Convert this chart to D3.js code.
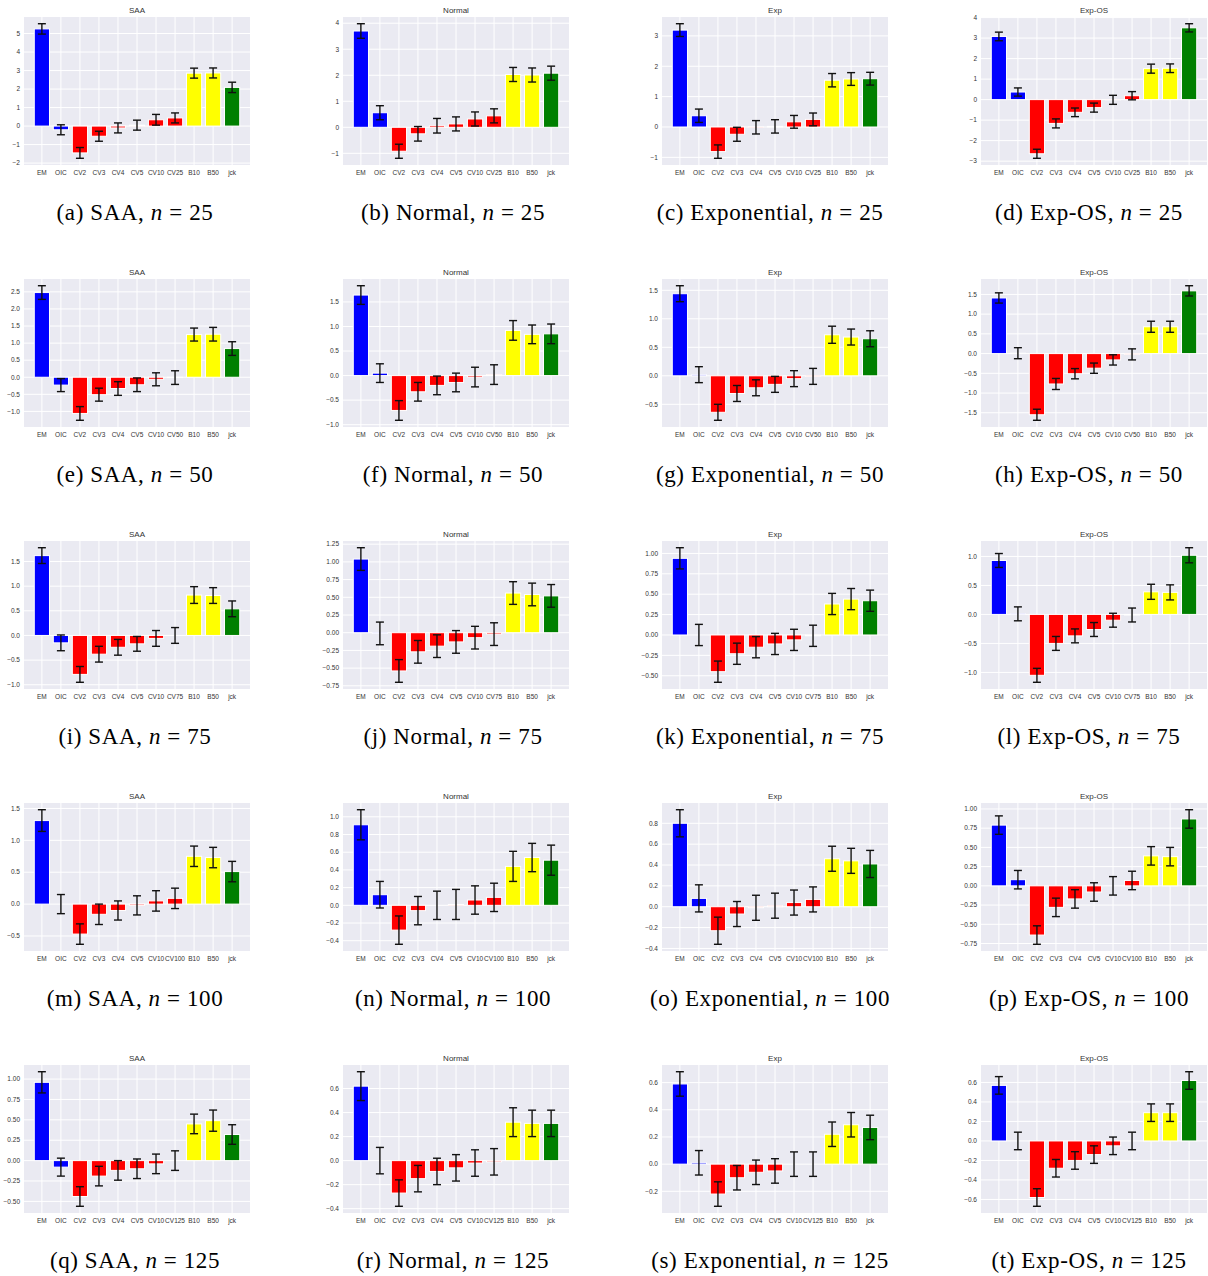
<!DOCTYPE html>
<html>
<head>
<meta charset="utf-8">
<script src="https://cdn.jsdelivr.net/npm/d3@7"></script>
<style>
  body { margin: 0; background: #fff; }
  text { font-family: "Liberation Sans", Arial, sans-serif; }
  .caption { font-family: "Liberation Serif", "DejaVu Serif", serif; letter-spacing: 0.6px; }
</style>
</head>
<body>
<div id="chart"></div>
<script>
// one column per method, one row per sample size
var methods = ["SAA", "Normal", "Exp", "Exp-OS"];
var methodNames = ["SAA", "Normal", "Exponential", "Exp-OS"];
var sizes = [25, 50, 75, 100, 125];
var baseCategories = ["EM", "OIC", "CV2", "CV3", "CV4", "CV5", "CV10", "CVn", "B10", "B50", "jck"];

// y tick step for each panel, rows = sizes, cols = methods
var tickSteps = [
  [1, 1, 1, 1],
  [0.5, 0.5, 0.5, 0.5],
  [0.5, 0.25, 0.25, 0.5],
  [0.5, 0.2, 0.2, 0.25],
  [0.25, 0.2, 0.2, 0.2]
];

// bar heights (means)
var saaMeans = [
  [5.25, -0.2, -1.45, -0.55, -0.1, 0.05, 0.34, 0.44, 2.86, 2.87, 2.09],
  [2.48, -0.23, -1.06, -0.51, -0.33, -0.22, -0.06, -0.01, 1.25, 1.26, 0.84],
  [1.62, -0.15, -0.79, -0.38, -0.24, -0.17, -0.06, 0.0, 0.82, 0.81, 0.54],
  [1.31, 0.0, -0.47, -0.16, -0.1, -0.02, 0.05, 0.09, 0.75, 0.73, 0.51],
  [0.96, -0.08, -0.44, -0.19, -0.12, -0.1, -0.04, 0.0, 0.45, 0.49, 0.32]
];
var saaErrors = [
  [0.28, 0.27, 0.29, 0.27, 0.27, 0.27, 0.29, 0.27, 0.27, 0.27, 0.28],
  [0.2, 0.19, 0.2, 0.19, 0.2, 0.2, 0.19, 0.2, 0.19, 0.2, 0.2],
  [0.16, 0.16, 0.16, 0.16, 0.16, 0.15, 0.16, 0.16, 0.17, 0.16, 0.16],
  [0.17, 0.15, 0.16, 0.16, 0.15, 0.15, 0.16, 0.16, 0.16, 0.16, 0.16],
  [0.13, 0.11, 0.12, 0.12, 0.12, 0.12, 0.12, 0.12, 0.12, 0.13, 0.12]
];

var normalMeans = [
  [3.7, 0.56, -0.92, -0.25, 0.06, 0.13, 0.32, 0.44, 2.03, 2.01, 2.08],
  [1.64, 0.05, -0.71, -0.33, -0.2, -0.14, -0.03, 0.02, 0.92, 0.84, 0.85],
  [1.04, -0.01, -0.54, -0.27, -0.19, -0.13, -0.07, -0.02, 0.56, 0.54, 0.52],
  [0.91, 0.12, -0.28, -0.06, 0.0, 0.01, 0.06, 0.09, 0.44, 0.54, 0.51],
  [0.62, 0.0, -0.27, -0.15, -0.09, -0.06, -0.02, -0.01, 0.32, 0.31, 0.31]
];
var normalErrors = [
  [0.28, 0.27, 0.27, 0.28, 0.28, 0.27, 0.27, 0.27, 0.27, 0.27, 0.27],
  [0.19, 0.19, 0.2, 0.19, 0.19, 0.19, 0.2, 0.2, 0.2, 0.19, 0.2],
  [0.16, 0.16, 0.16, 0.16, 0.16, 0.16, 0.16, 0.16, 0.16, 0.16, 0.16],
  [0.17, 0.15, 0.16, 0.16, 0.16, 0.17, 0.16, 0.16, 0.17, 0.16, 0.17],
  [0.12, 0.11, 0.11, 0.11, 0.11, 0.11, 0.11, 0.11, 0.12, 0.11, 0.11]
];

var expMeans = [
  [3.19, 0.37, -0.81, -0.24, -0.01, 0.02, 0.17, 0.25, 1.54, 1.58, 1.59],
  [1.44, 0.02, -0.64, -0.31, -0.21, -0.15, -0.05, -0.01, 0.72, 0.68, 0.65],
  [0.94, 0.0, -0.45, -0.23, -0.15, -0.11, -0.06, -0.01, 0.38, 0.44, 0.42],
  [0.8, 0.08, -0.23, -0.07, -0.01, 0.01, 0.04, 0.07, 0.46, 0.44, 0.41],
  [0.59, 0.01, -0.22, -0.1, -0.06, -0.05, 0.0, 0.0, 0.22, 0.29, 0.27]
];
var expErrors = [
  [0.21, 0.22, 0.22, 0.23, 0.22, 0.22, 0.21, 0.21, 0.22, 0.21, 0.21],
  [0.14, 0.14, 0.14, 0.14, 0.14, 0.14, 0.14, 0.14, 0.15, 0.14, 0.14],
  [0.13, 0.13, 0.13, 0.13, 0.13, 0.13, 0.13, 0.13, 0.13, 0.13, 0.13],
  [0.13, 0.13, 0.13, 0.12, 0.12, 0.12, 0.12, 0.12, 0.12, 0.12, 0.13],
  [0.09, 0.09, 0.09, 0.09, 0.09, 0.09, 0.09, 0.09, 0.09, 0.09, 0.09]
];

var expOsMeans = [
  [3.08, 0.37, -2.64, -1.16, -0.62, -0.39, -0.01, 0.19, 1.51, 1.53, 3.5],
  [1.41, 0.01, -1.55, -0.77, -0.51, -0.37, -0.16, -0.02, 0.68, 0.68, 1.59],
  [0.93, 0.01, -1.05, -0.5, -0.37, -0.26, -0.1, -0.01, 0.39, 0.38, 1.02],
  [0.79, 0.08, -0.64, -0.28, -0.17, -0.08, 0.0, 0.07, 0.39, 0.38, 0.87],
  [0.57, 0.0, -0.58, -0.28, -0.2, -0.14, -0.05, 0.0, 0.29, 0.29, 0.62]
];
var expOsErrors = [
  [0.21, 0.2, 0.22, 0.22, 0.21, 0.22, 0.22, 0.2, 0.22, 0.21, 0.2],
  [0.13, 0.14, 0.14, 0.14, 0.13, 0.13, 0.13, 0.14, 0.14, 0.14, 0.13],
  [0.12, 0.12, 0.12, 0.12, 0.12, 0.12, 0.12, 0.12, 0.13, 0.13, 0.13],
  [0.12, 0.12, 0.12, 0.12, 0.12, 0.12, 0.12, 0.12, 0.12, 0.12, 0.12],
  [0.09, 0.09, 0.09, 0.09, 0.09, 0.09, 0.09, 0.09, 0.09, 0.09, 0.09]
];

var allMeans = [saaMeans, normalMeans, expMeans, expOsMeans];
var allErrors = [saaErrors, normalErrors, expErrors, expOsErrors];

var barColors = ["blue", "blue", "red", "red", "red", "red", "red", "red", "yellow", "yellow", "green"];

var width = 1208, height = 1276;
var colX = [24, 343, 662, 981];
var rowY = [17, 279, 541, 803, 1065];
var axW = 226, axH = 148;
var captionX = [135, 453, 770, 1089];
var letters = "abcdefghijklmnopqrst";

var svg = d3.select("#chart").append("svg")
  .attr("width", width)
  .attr("height", height);

var drawPanel = function(g, means, errs, cats, title, step) {
  // matplotlib style limits: bars +-0.4, 5% margins
  var x = d3.scaleLinear().domain([-0.94, 10.94]).range([0, axW]);
  var lo = Math.min(0, d3.min(means, function(d, i) { return d - errs[i]; }));
  var hi = Math.max(0, d3.max(means, function(d, i) { return d + errs[i]; }));
  var pad = (hi - lo) * 0.05;
  var y = d3.scaleLinear().domain([lo - pad, hi + pad]).range([axH, 0]);

  var ticks = [];
  for (var k = Math.ceil((lo - pad) / step - 1e-9); k * step <= hi + pad + 1e-9; k++) {
    ticks.push(+(k * step).toFixed(4));
  }
  var decimals = step >= 1 ? 0 : (step == 0.25 ? 2 : 1);
  var fmt = function(v) { return v.toFixed(decimals).replace("-", "\u2212"); };

  g.append("rect")
    .attr("width", axW).attr("height", axH)
    .attr("fill", "#eaeaf2");

  g.selectAll(".hgrid")
    .data(ticks)
    .enter().append("line")
    .attr("x1", 0).attr("x2", axW)
    .attr("y1", function(d) { return y(d); })
    .attr("y2", function(d) { return y(d); })
    .attr("stroke", "#fff").attr("stroke-width", 1);

  g.selectAll(".vgrid")
    .data(cats)
    .enter().append("line")
    .attr("x1", function(d, i) { return x(i); })
    .attr("x2", function(d, i) { return x(i); })
    .attr("y1", 0).attr("y2", axH)
    .attr("stroke", "#fff").attr("stroke-width", 1);

  g.selectAll(".bar")
    .data(means)
    .enter().append("rect")
    .attr("x", function(d, i) { return x(i - 0.4); })
    .attr("width", x(0.4) - x(-0.4))
    .attr("y", function(d) { return y(Math.max(0, d)); })
    .attr("height", function(d) { return Math.abs(y(0) - y(d)); })
    .attr("fill", function(d, i) { return barColors[i]; })
    .attr("stroke", "#fff")
    .attr("stroke-width", 1);

  var eb = g.selectAll(".err")
    .data(means)
    .enter().append("g")
    .attr("stroke", "#111")
    .attr("stroke-width", 1.4);
  eb.append("line")
    .attr("x1", function(d, i) { return x(i); })
    .attr("x2", function(d, i) { return x(i); })
    .attr("y1", function(d, i) { return y(d - errs[i]); })
    .attr("y2", function(d, i) { return y(d + errs[i]); });
  eb.append("line")
    .attr("x1", function(d, i) { return x(i) - 4; })
    .attr("x2", function(d, i) { return x(i) + 4; })
    .attr("y1", function(d, i) { return y(d + errs[i]); })
    .attr("y2", function(d, i) { return y(d + errs[i]); });
  eb.append("line")
    .attr("x1", function(d, i) { return x(i) - 4; })
    .attr("x2", function(d, i) { return x(i) + 4; })
    .attr("y1", function(d, i) { return y(d - errs[i]); })
    .attr("y2", function(d, i) { return y(d - errs[i]); });

  g.selectAll(".ytick")
    .data(ticks)
    .enter().append("text")
    .attr("x", -4)
    .attr("y", function(d) { return y(d); })
    .attr("dy", "0.35em")
    .attr("text-anchor", "end")
    .attr("font-size", 6.5)
    .attr("fill", "#333")
    .text(fmt);

  g.selectAll(".xtick")
    .data(cats)
    .enter().append("text")
    .attr("x", function(d, i) { return x(i); })
    .attr("y", axH + 10)
    .attr("text-anchor", "middle")
    .attr("font-size", 6.5)
    .attr("fill", "#333")
    .text(function(d) { return d; });

  g.append("text")
    .attr("x", axW / 2)
    .attr("y", -4)
    .attr("text-anchor", "middle")
    .attr("font-size", 8)
    .attr("fill", "#333")
    .text(title);
};

sizes.forEach(function(n, r) {
  var cats = baseCategories.map(function(c) { return c == "CVn" ? "CV" + n : c; });
  methods.forEach(function(m, c) {
    var g = svg.append("g")
      .attr("transform", "translate(" + colX[c] + "," + rowY[r] + ")");
    drawPanel(g, allMeans[c][r], allErrors[c][r], cats, m, tickSteps[r][c]);

    var cap = svg.append("text")
      .attr("class", "caption")
      .attr("x", captionX[c])
      .attr("y", rowY[r] + 203)
      .attr("text-anchor", "middle")
      .attr("font-size", 23)
      .attr("fill", "#000");
    cap.append("tspan").text("(" + letters[r * 4 + c] + ") " + methodNames[c] + ", ");
    cap.append("tspan").attr("font-style", "italic").text("n");
    cap.append("tspan").text(" = " + n);
  });
});
</script>
</body>
</html>
